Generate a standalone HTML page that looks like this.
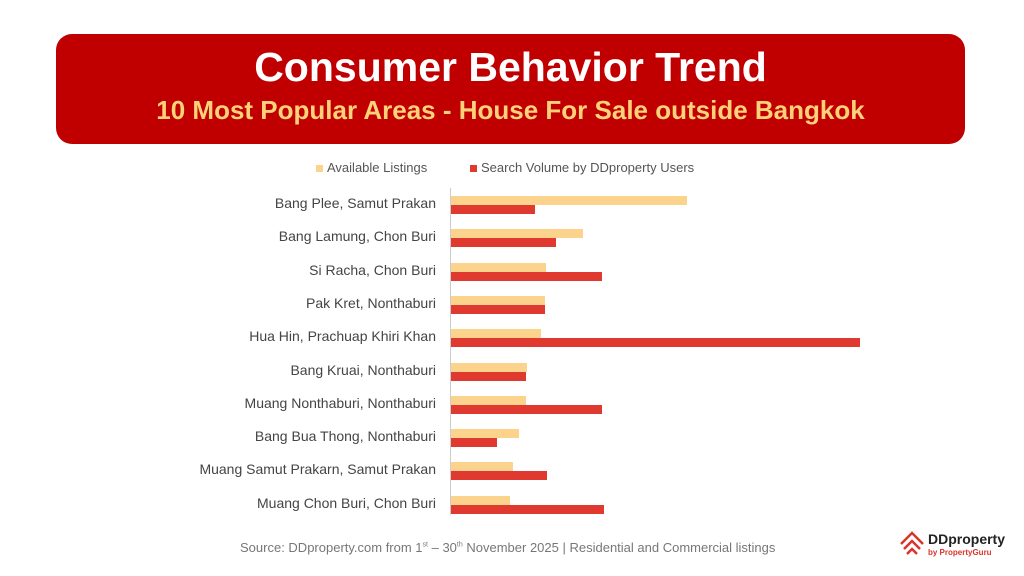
<!DOCTYPE html>
<html><head><meta charset="utf-8"><style>
body{margin:0;width:1024px;height:576px;background:#fff;font-family:"Liberation Sans",sans-serif;position:relative;overflow:hidden}
.banner{position:absolute;left:56px;top:34px;width:909px;height:110px;background:#c00000;border-radius:16px;text-align:center;color:#fff}
.t1{position:absolute;left:0;right:0;top:10px;font-size:41px;font-weight:bold}
.t2{position:absolute;left:0;right:0;top:61px;font-size:26px;font-weight:bold;color:#ffd27a}
.lbl{position:absolute;right:588px;font-size:14px;color:#444;white-space:nowrap;line-height:16px}
.bar{position:absolute;left:451px;height:9px}
.y{background:#fbd38d}.r{background:#e03a30}
.leg{position:absolute;top:160px;font-size:13px;color:#555}
.sq{display:inline-block;width:7px;height:7px;margin-right:4px}
</style></head><body>
<div class="banner"><div class="t1">Consumer Behavior Trend</div><div class="t2">10 Most Popular Areas - House For Sale outside Bangkok</div></div>
<div class="leg" style="left:316px"><span class="sq" style="background:#fbd38d"></span>Available Listings</div>
<div class="leg" style="left:470px"><span class="sq" style="background:#e03a30"></span>Search Volume by DDproperty Users</div>
<div style="position:absolute;left:450px;top:188px;width:1px;height:327px;background:#ccc"></div>
<div id="c"></div>
<div style="position:absolute;left:240px;top:540px;font-size:13px;color:#777">Source: DDproperty.com from 1<sup style="font-size:7px">st</sup> – 30<sup style="font-size:7px">th</sup> November 2025 | Residential and Commercial listings</div>
<svg style="position:absolute;left:898px;top:530px" width="28" height="28" viewBox="0 0 28 28"><path d="M3 14 L14 3 L25 14 M6 19 L14 11 L22 19 M9 24 L14 19 L19 24" fill="none" stroke="#d9342b" stroke-width="2.5"/></svg>
<div style="position:absolute;left:928px;top:531px;font-size:14px;font-weight:bold;color:#222">DDproperty</div>
<div style="position:absolute;left:928px;top:548px;font-size:8px;font-weight:bold;color:#d9342b">by PropertyGuru</div>
<script>
var L=["Bang Plee, Samut Prakan","Bang Lamung, Chon Buri","Si Racha, Chon Buri","Pak Kret, Nonthaburi","Hua Hin, Prachuap Khiri Khan","Bang Kruai, Nonthaburi","Muang Nonthaburi, Nonthaburi","Bang Bua Thong, Nonthaburi","Muang Samut Prakarn, Samut Prakan","Muang Chon Buri, Chon Buri"];
var Y=[687,583,546,545,541,527,526,519,513,510],R=[535,556,602,545,860,526,602,497,547,604];
var h="";for(var i=0;i<10;i++){var c=204+i*33.3;
h+='<div class="lbl" style="top:'+(c-9)+'px">'+L[i]+'</div><div class="bar y" style="top:'+(c-8)+'px;width:'+(Y[i]-451)+'px"></div><div class="bar r" style="top:'+(c+1)+'px;width:'+(R[i]-451)+'px"></div>';}
document.getElementById("c").innerHTML=h;
</script>
</body></html>
